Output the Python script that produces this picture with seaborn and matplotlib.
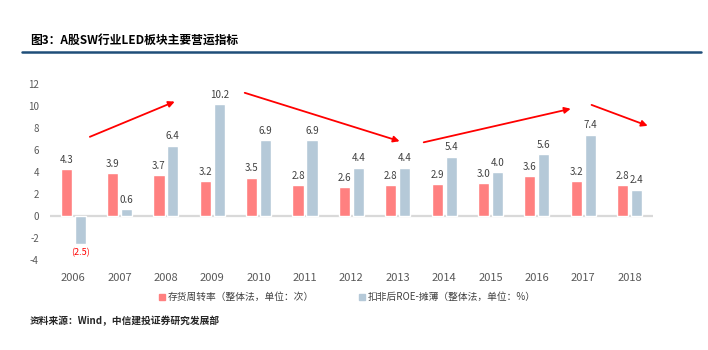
import pandas as pd
import matplotlib
matplotlib.use('Agg')
import matplotlib.pyplot as plt
import seaborn as sns
from matplotlib.lines import Line2D

years = ['2006', '2007', '2008', '2009', '2010', '2011', '2012',
         '2013', '2014', '2015', '2016', '2017', '2018']
inventory_turnover = [4.3, 3.9, 3.7, 3.2, 3.5, 2.8, 2.6, 2.8, 2.9, 3.0, 3.6, 3.2, 2.8]
roe_diluted = [-2.5, 0.6, 6.4, 10.2, 6.9, 6.9, 4.4, 4.4, 5.4, 4.0, 5.6, 7.4, 2.4]
series_names = ['存货周转率（整体法，单位：次）', '扣非后ROE-摊薄（整体法，单位：%）']
yticks = [-4, -2, 0, 2, 4, 6, 8, 10, 12]

# trend arrows (start x, start y, end x, end y) in category / value units
trend_arrows = [
    (0.36, 7.2, 2.19, 10.4),
    (3.70, 11.2, 7.04, 6.8),
    (7.56, 6.7, 10.73, 9.75),
    (11.18, 10.1, 12.39, 8.2),
]

sns.set_theme(style='white')
plt.rcParams['font.family'] = ['Noto Sans CJK SC', 'DejaVu Sans']
plt.rcParams['axes.unicode_minus'] = False

red = '#FF8080'
blue = '#B5C9D8'
txt = '#404040'

df = pd.DataFrame({
    'year': years * 2,
    'value': inventory_turnover + roe_diluted,
    'series': [series_names[0]] * len(years) + [series_names[1]] * len(years),
})

fig = plt.figure(figsize=(7.08, 3.5), dpi=100)
ax = fig.add_axes([0.0706, 0.257, 0.8514, 0.503])

sns.barplot(data=df, x='year', y='value', hue='series', palette=[red, blue],
            width=0.6, gap=0.2, ax=ax, legend=False, saturation=1)

ax.set_xlim(-0.5, len(years) - 0.5)
ax.set_ylim(-4, 12)
ax.set_yticks(yticks)
ax.set_yticklabels([str(t) for t in yticks], fontsize=7, color='#595959')
ax.tick_params(axis='x', labelsize=8, colors='#595959', pad=9, length=0)
ax.tick_params(axis='y', length=0, pad=8)
ax.set_xlabel('')
ax.set_ylabel('')
for s in ax.spines.values():
    s.set_visible(False)
ax.axhline(0, color='#D9D9D9', lw=1.6, zorder=0.5)

# value labels
for cont in ax.containers:
    labels = []
    for bar in cont:
        v = bar.get_height()
        labels.append(f'({abs(v):.1f})' if v < 0 else f'{v:.1f}')
    texts = ax.bar_label(cont, labels=labels, padding=3, fontsize=7, color=txt)
    for bar, t in zip(cont, texts):
        if bar.get_height() < 0:
            t.set_color('#FF0000')
            t.set_fontsize(6.5)
            t.set_y(t.get_position()[1])

for x0, y0, x1, y1 in trend_arrows:
    ax.annotate('', xy=(x1, y1), xytext=(x0, y0),
                arrowprops=dict(arrowstyle='-|>', color='#FF0000', lw=1.3,
                                mutation_scale=9, shrinkA=0, shrinkB=0),
                annotation_clip=False)

handles = [Line2D([], [], marker='s', ls='', color=red, markersize=5),
           Line2D([], [], marker='s', ls='', color=blue, markersize=5)]
fig.legend(handles, series_names, loc='center', bbox_to_anchor=(0.49, 0.151),
           ncol=2, frameon=False, fontsize=7, labelcolor='#404040',
           handletextpad=0.2, columnspacing=4.5, handlelength=0.8)

fig.text(0.042, 0.885, '图3：A股SW行业LED板块主要营运指标', fontsize=8.5,
         fontweight='bold', color='#000000', va='center')
fig.add_artist(Line2D([0.031, 0.99], [0.852, 0.852], transform=fig.transFigure,
                      color='#1F4E79', lw=1.8))
fig.text(0.042, 0.083, '资料来源：Wind，中信建投证券研究发展部', fontsize=7,
         style='italic', fontweight='bold', color='#262626', va='center')

fig.savefig('out.png', dpi=100)
